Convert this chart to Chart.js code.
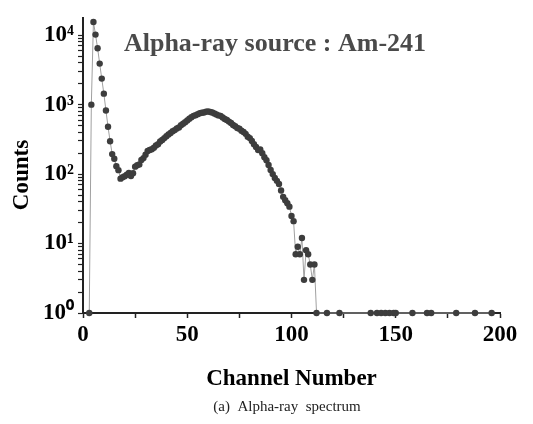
<!DOCTYPE html>
<html>
<head>
<meta charset="utf-8">
<script src="https://cdn.jsdelivr.net/npm/chart.js@4/dist/chart.umd.min.js"></script>
<style>
  html, body { margin: 0; padding: 0; background: #fff; }
  #wrap { width: 533px; height: 424px; position: relative; }
</style>
</head>
<body>
<div id="wrap"><canvas id="spectrum"></canvas></div>
<script>
// counts per channel, starting at channel 3 (channels below have no counts)
const firstChannel = 3;
const peakCounts = [
  1, 1000, 15500, 10200, 6500, 3900, 2370, 1440, 825, 481,
  297, 194, 166, 130, 114, 86, 90, 93, 98, 104,
  94, 103, 128, 134, 138, 160, 170, 190, 215, 222,
  228, 240, 258, 270, 295, 310, 330, 350, 372, 390,
  415, 430, 455, 470, 505, 530, 560, 590, 625, 660,
  690, 705, 730, 750, 765, 770, 790, 800, 785, 770,
  745, 720, 700, 690, 655, 620, 600, 570, 545, 510,
  490, 460, 450, 420, 405, 380, 345, 330, 300, 270,
  245, 222, 226, 200, 175, 158, 135, 115, 100, 88,
  80, 72, 58, 47, 42, 38, 34, 25, 21, 7,
  9, 7, 12, 3, 8, 7, 5, 3, 5, 1
];
// isolated channels holding a single count
const singleCountChannels = [117, 123, 138, 141, 143, 145, 147, 149, 150, 158, 165, 167, 179, 188, 196];
const xTicks = [0, 50, 100, 150, 200];
const yTickLabels = { 1: "10\u2070", 10: "10\u00b9", 100: "10\u00b2", 1000: "10\u00b3", 10000: "10\u2074" };

const points = peakCounts.map((c, i) => ({ x: firstChannel + i, y: c }))
  .concat(singleCountChannels.map(ch => ({ x: ch, y: 1 })));

const textPlugin = {
  id: "texts",
  afterDraw(chart) {
    const ctx = chart.ctx;
    ctx.save();
    ctx.textAlign = "center";
    ctx.textBaseline = "middle";
    ctx.fillStyle = "#4a4a4a";
    ctx.font = 'bold 26px "Liberation Serif"';
    ctx.fillText("Alpha-ray source : Am-241", 275, 44);
    ctx.fillStyle = "#222";
    ctx.font = '15px "Liberation Serif"';
    ctx.fillText("(a)  Alpha-ray  spectrum", 287, 407);
    // y axis title
    ctx.fillStyle = "#000";
    ctx.font = 'bold 23px "Liberation Serif"';
    ctx.translate(22, 175);
    ctx.rotate(-Math.PI / 2);
    ctx.fillText("Counts", 0, 0);
    ctx.restore();
  }
};

const sc = document.getElementById("spectrum").getContext("2d");
const spectrumChart = new Chart(sc, {
  type: "line",
  data: {
    datasets: [
      {
        label: "Counts",
        data: points,
        borderColor: "#a0a0a0",
        borderWidth: 1,
        pointRadius: 3.2,
        pointBackgroundColor: "#3d3d3d",
        pointBorderWidth: 0,
        tension: 0,
        clip: false,
      },
    ],
  },
  options: {
    responsive: true,
    maintainAspectRatio: false,
    animation: false,
    layout: { padding: { top: 4, right: 33, bottom: 31, left: 0 } },
    plugins: {
      legend: { display: false },
      tooltip: { enabled: false },
    },
    scales: {
      x: {
        type: "linear",
        min: 0,
        max: 200,
        afterFit(scale) { scale.height = 80; },
        afterBuildTicks(scale) {
          scale.ticks = [0, 25, 50, 75, 100, 125, 150, 175, 200].map(v => ({ value: v }));
        },
        border: { color: "#222", width: 2 },
        grid: { drawOnChartArea: false, drawTicks: true, tickLength: 5, color: "#222", tickWidth: 1.5 },
        ticks: {
          autoSkip: false,
          maxRotation: 0,
          padding: 3,
          color: "#000",
          font: { family: "Liberation Serif", weight: "bold", size: 23 },
          callback: v => (xTicks.includes(v) ? String(v) : ""),
        },
        title: {
          display: true,
          text: "Channel Number",
          color: "#000",
          font: { family: "Liberation Serif", weight: "bold", size: 23 },
          padding: { top: 17, bottom: 0 },
        },
      },
      y: {
        type: "logarithmic",
        min: 1,
        max: 17800,
        afterFit(scale) { scale.width = 83; },
        afterBuildTicks(scale) {
          scale.ticks = scale.ticks.filter(t => {
            const m = t.value / Math.pow(10, Math.floor(Math.log10(t.value) + 1e-9));
            return Math.abs(m - Math.round(m)) < 1e-6;
          });
        },
        border: { color: "#222", width: 2 },
        grid: { drawOnChartArea: false, drawTicks: true, tickLength: 5, color: "#222", tickWidth: 1.2 },
        ticks: {
          autoSkip: false,
          padding: 4,
          color: "#000",
          font: { family: "Liberation Serif", weight: "bold", size: 23 },
          callback: v => yTickLabels[v] || "",
        },
      },
    },
  },
  plugins: [textPlugin],
});
</script>
</body>
</html>
